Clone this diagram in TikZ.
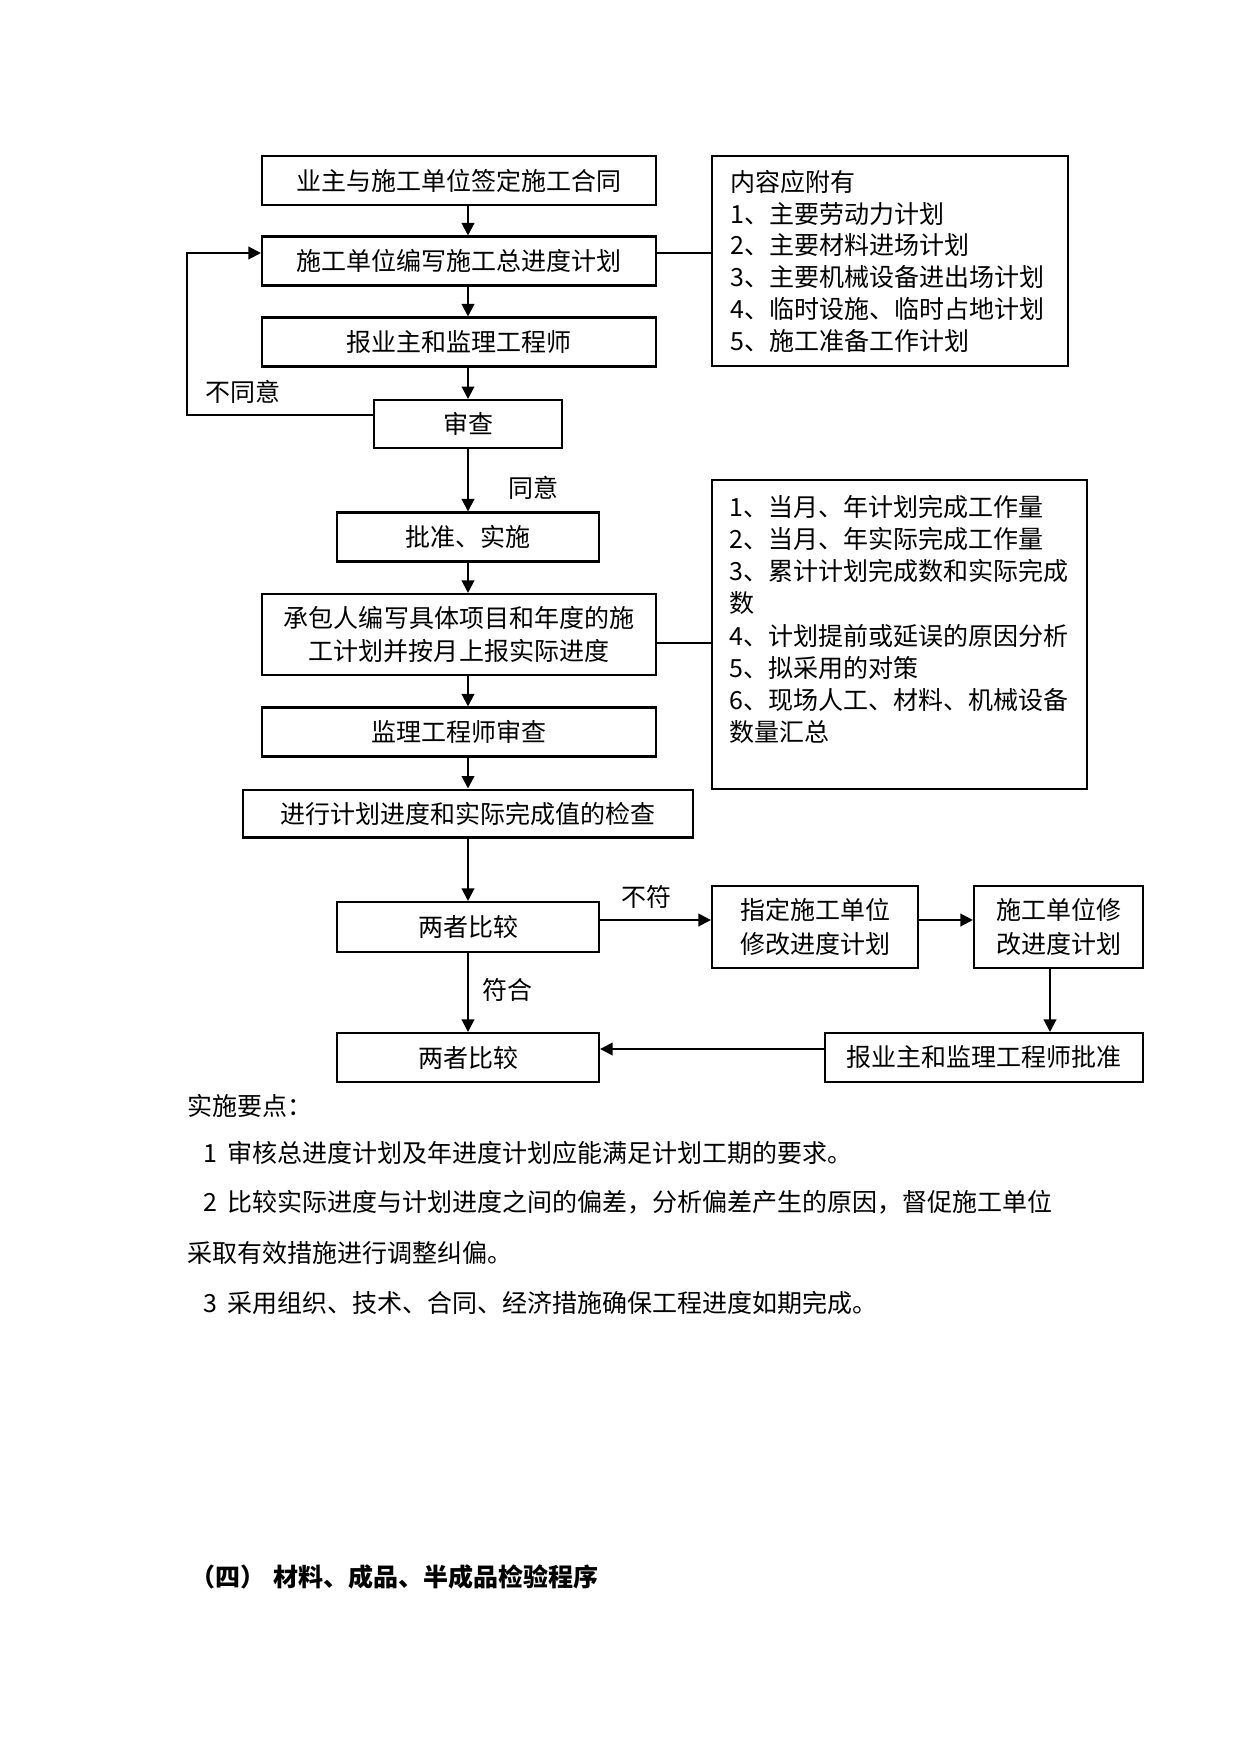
\documentclass[tikz,border=0pt]{standalone}
\usepackage{fontspec}
\setmainfont{Noto Sans CJK SC}
\usetikzlibrary{arrows.meta}
\begin{document}
\begin{tikzpicture}[x=0.48pt,y=-0.48pt,
  box/.style={draw,line width=1pt,inner sep=0pt,align=center,font=\fontsize{12pt}{16pt}\selectfont},
  frame/.style={draw,line width=1pt,inner sep=0pt},
  txt/.style={anchor=west,inner sep=0pt,font=\fontsize{12pt}{15pt}\selectfont,text height=10.5pt,text depth=1.5pt},
  lbl/.style={inner sep=0pt,font=\fontsize{12pt}{15pt}\selectfont,text height=10.5pt,text depth=1.5pt},
  arr/.style={line width=1pt,-{Triangle[length=6pt,width=6pt]}},
  con/.style={line width=1pt}]
\useasboundingbox (0,0) rectangle (1241,1755);

% main column
\node[box,minimum width=189.1pt,minimum height=23.5pt] (B1) at (459,180.5) {业主与施工单位签定施工合同};
\node[box,minimum width=189.1pt,minimum height=23.5pt] (B2) at (459,261) {施工单位编写施工总进度计划};
\node[box,minimum width=189.1pt,minimum height=23.5pt] (B3) at (459,342) {报业主和监理工程师};
\node[box,minimum width=90.2pt,minimum height=23pt] (SC) at (468,424) {审查};
\node[box,minimum width=125.8pt,minimum height=23.5pt] (PZ) at (468,537) {批准、实施};
\node[box,minimum width=189.1pt,minimum height=38.9pt] (CB) at (459,634.5) {承包人编写具体项目和年度的施\\工计划并按月上报实际进度};
\node[box,minimum width=189.1pt,minimum height=23.5pt] (JL) at (459,732) {监理工程师审查};
\node[box,minimum width=216pt,minimum height=23pt] (JX) at (468,813.5) {进行计划进度和实际完成值的检查};
\node[box,minimum width=125.8pt,minimum height=24pt] (CMP1) at (468,927) {两者比较};
\node[box,minimum width=98.9pt,minimum height=39.4pt] (ZD) at (815,927) {指定施工单位\\修改进度计划};
\node[box,minimum width=81.1pt,minimum height=39.4pt] (XG) at (1058.5,927) {施工单位修\\改进度计划};
\node[box,minimum width=152.6pt,minimum height=23.5pt] (BP) at (984,1057.5) {报业主和监理工程师批准};
\node[box,minimum width=125.8pt,minimum height=23.5pt] (CMP2) at (468,1057.5) {两者比较};

% side boxes
\node[frame,minimum width=170.9pt,minimum height=100.8pt] (R1) at (890,261) {};
\foreach \t [count=\i] in {内容应附有,1、主要劳动力计划,2、主要材料进场计划,3、主要机械设备进出场计划,4、临时设施、临时占地计划,5、施工准备工作计划}
  \node[txt] (ra\i) at (730,{182+31.8*(\i-1)}) {\t};

\node[frame,minimum width=180pt,minimum height=148.3pt] (R2) at (899.5,634.5) {};
\foreach \t [count=\i] in {1、当月、年计划完成工作量,2、当月、年实际完成工作量,3、累计计划完成数和实际完成,数,4、计划提前或延误的原因分析,5、拟采用的对策,6、现场人工、材料、机械设备,数量汇总}
  \node[txt] (rb\i) at (729,{507+32.2*(\i-1)}) {\t};

% labels
\node[lbl] (nty) at (243,392) {不同意};
\node[lbl] (ty) at (533,488) {同意};
\node[lbl] (bf) at (646,897) {不符};
\node[lbl] (fh) at (507,990) {符合};

% helper coordinates
\coordinate (L1) at (187,415);
\coordinate (L2) at (187,253);
\coordinate (C2) at (680,643);
\coordinate (C3) at (650,920);
\coordinate (C4) at (1050,1000);
\coordinate (C5) at (700,1049);

% connectors
\draw[arr] (B1.south -| SC.north) -- (B2.north -| SC.north);
\draw[arr] (B2.south -| SC.north) -- (B3.north -| SC.north);
\draw[arr] (B3.south -| SC.north) -- (SC.north);
\draw[arr] (SC.south) -- (PZ.north);
\draw[arr] (PZ.south) -- (CB.north -| PZ.south);
\draw[arr] (CB.south -| SC.north) -- (JL.north -| SC.north);
\draw[arr] (JL.south -| SC.north) -- (JX.north -| SC.north);
\draw[arr] (JX.south -| SC.north) -- (CMP1.north);
\draw[arr] (CMP1.south) -- (CMP2.north);
\draw[arr] (SC.west |- L1) -- (L1) -- (L2) -- (B2.west |- L2);
\draw[con] (B2.east |- L2) -- (R1.west |- L2);
\draw[con] (CB.east |- C2) -- (R2.west |- C2);
\draw[arr] (CMP1.east |- C3) -- (ZD.west |- C3);
\draw[arr] (ZD.east |- C3) -- (XG.west |- C3);
\draw[arr] (XG.south -| C4) -- (BP.north -| C4);
\draw[arr] (BP.west |- C5) -- (CMP2.east |- C5);

% notes
\node[txt] (n0) at (187,1106) {实施要点：};
\node[txt] (n1) at (203,1153) {1\hspace{5pt}审核总进度计划及年进度计划应能满足计划工期的要求。};
\node[txt] (n2) at (203,1202) {2\hspace{5pt}比较实际进度与计划进度之间的偏差，分析偏差产生的原因，督促施工单位};
\node[txt] (n3) at (187,1253) {采取有效措施进行调整纠偏。};
\node[txt] (n4) at (203,1303) {3\hspace{5pt}采用组织、技术、合同、经济措施确保工程进度如期完成。};
\node[txt,font=\fontsize{12pt}{15pt}\selectfont\bfseries] (hd) at (190,1577) {（四）\hspace{4pt}材料、成品、半成品检验程序};
\end{tikzpicture}
\end{document}
